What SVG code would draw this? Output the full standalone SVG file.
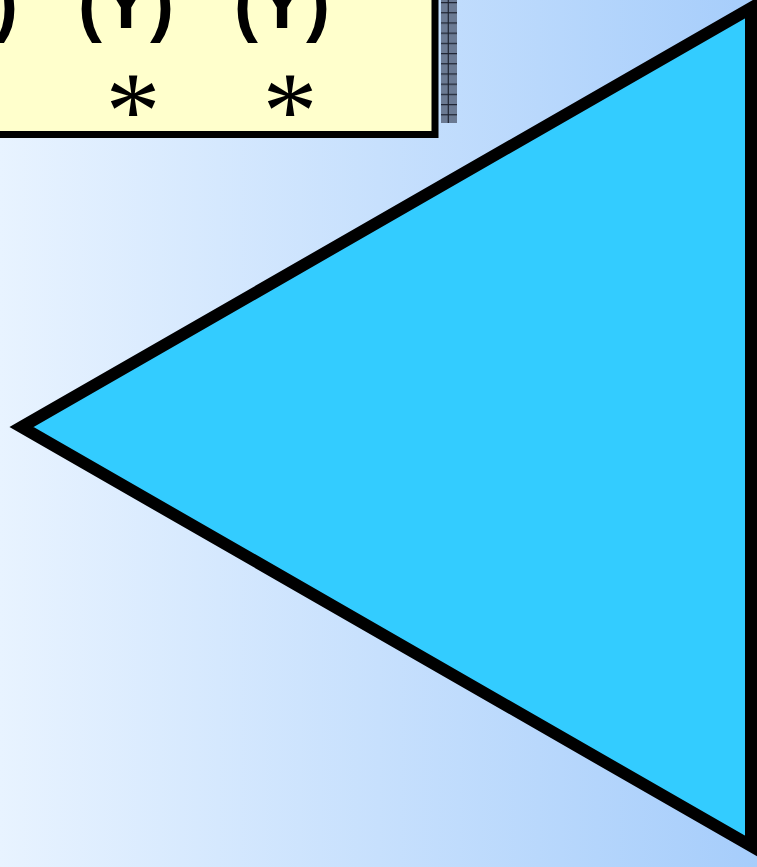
<svg xmlns="http://www.w3.org/2000/svg" width="757" height="867" viewBox="0 0 757 867">
  <defs>
    <linearGradient id="bg" gradientUnits="userSpaceOnUse" x1="0" y1="0" x2="757" y2="0">
      <stop offset="0" stop-color="#e8f3ff"/>
      <stop offset="1" stop-color="#a6cdfb"/>
    </linearGradient>
    <pattern id="shadowGrid" patternUnits="userSpaceOnUse" x="441" y="2" width="7.5" height="10.2">
      <rect width="7.5" height="10.2" fill="#6b7a93"/>
      <rect width="7.5" height="1.2" fill="#1e2432"/>
    </pattern>
  </defs>
  <style>
    .sym { font-family: "Liberation Sans", Arial, sans-serif; font-weight: bold; font-size: 72px; fill: #000; }
    .ast { font-family: "Liberation Serif", "Times New Roman", serif; font-size: 110px; fill: #000; }
  </style>
  <rect x="0" y="0" width="757" height="867" fill="url(#bg)"/>

  <g id="label-box">
    <rect x="441" y="-5" width="16" height="128" fill="url(#shadowGrid)"/>
    <line x1="448.3" y1="0" x2="448.3" y2="123" stroke="#1e2432" stroke-width="1.2"/>
    <rect x="-10" y="-10" width="445" height="144.5" fill="#ffffcc" stroke="#000" stroke-width="7"/>
    <text class="sym" x="-30" y="28" text-anchor="middle">(Y)</text>
    <text class="sym" x="126" y="28" text-anchor="middle">(Y)</text>
    <text class="sym" x="282" y="28" text-anchor="middle">(Y)</text>
    <text class="ast" x="133" y="148" text-anchor="middle">*</text>
    <text class="ast" x="290" y="148" text-anchor="middle">*</text>
  </g>

  <g id="triangle">
    <polygon points="21.5,427 751,8 751,846" fill="#33ccff" stroke="#000" stroke-width="12" stroke-linejoin="miter"/>
  </g>
</svg>
